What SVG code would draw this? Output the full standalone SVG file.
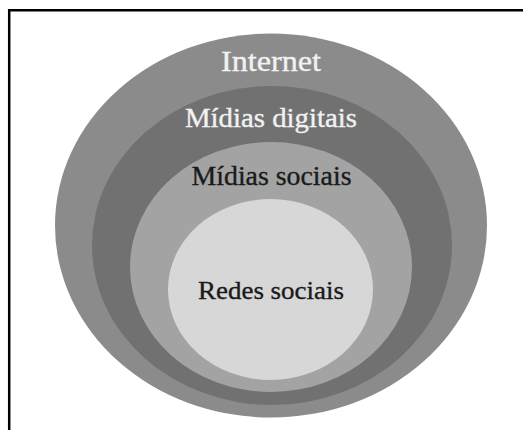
<svg xmlns="http://www.w3.org/2000/svg" width="523" height="430" viewBox="0 0 523 430">
  <style>
    .lbl { font-family: "Liberation Serif", "Times New Roman", serif; text-anchor: middle; stroke-width: 0.35; }
    .light { fill: #f2f2f2; stroke: #f2f2f2; }
    .dark { fill: #1a1a1a; stroke: #1a1a1a; }
    .frame { stroke: #000; stroke-width: 2.5; fill: none; }
  </style>
  <rect width="523" height="430" fill="#ffffff"/>
  <!-- frame: top and left edges only -->
  <path class="frame" d="M9.2 430 V10.2 H523"/>

  <g id="internet">
    <ellipse cx="271" cy="225.5" rx="216" ry="192" fill="#8b8b8b"/>
    <text class="lbl light" x="271" y="71" font-size="30" textLength="100" lengthAdjust="spacingAndGlyphs">Internet</text>
  </g>
  <g id="midias-digitais">
    <ellipse cx="272" cy="245.5" rx="180" ry="159.5" fill="#717171"/>
    <text class="lbl light" x="271" y="127" font-size="27" textLength="172" lengthAdjust="spacingAndGlyphs">Mídias digitais</text>
  </g>
  <g id="midias-sociais">
    <ellipse cx="271" cy="267" rx="141" ry="125" fill="#a3a3a3"/>
    <text class="lbl dark" x="271.5" y="185" font-size="27" textLength="160" lengthAdjust="spacingAndGlyphs">Mídias sociais</text>
  </g>
  <g id="redes-sociais">
    <ellipse cx="270.5" cy="289.5" rx="102.5" ry="90.5" fill="#d7d7d7"/>
    <text class="lbl dark" x="271" y="299" font-size="26" textLength="146" lengthAdjust="spacingAndGlyphs">Redes sociais</text>
  </g>
</svg>
